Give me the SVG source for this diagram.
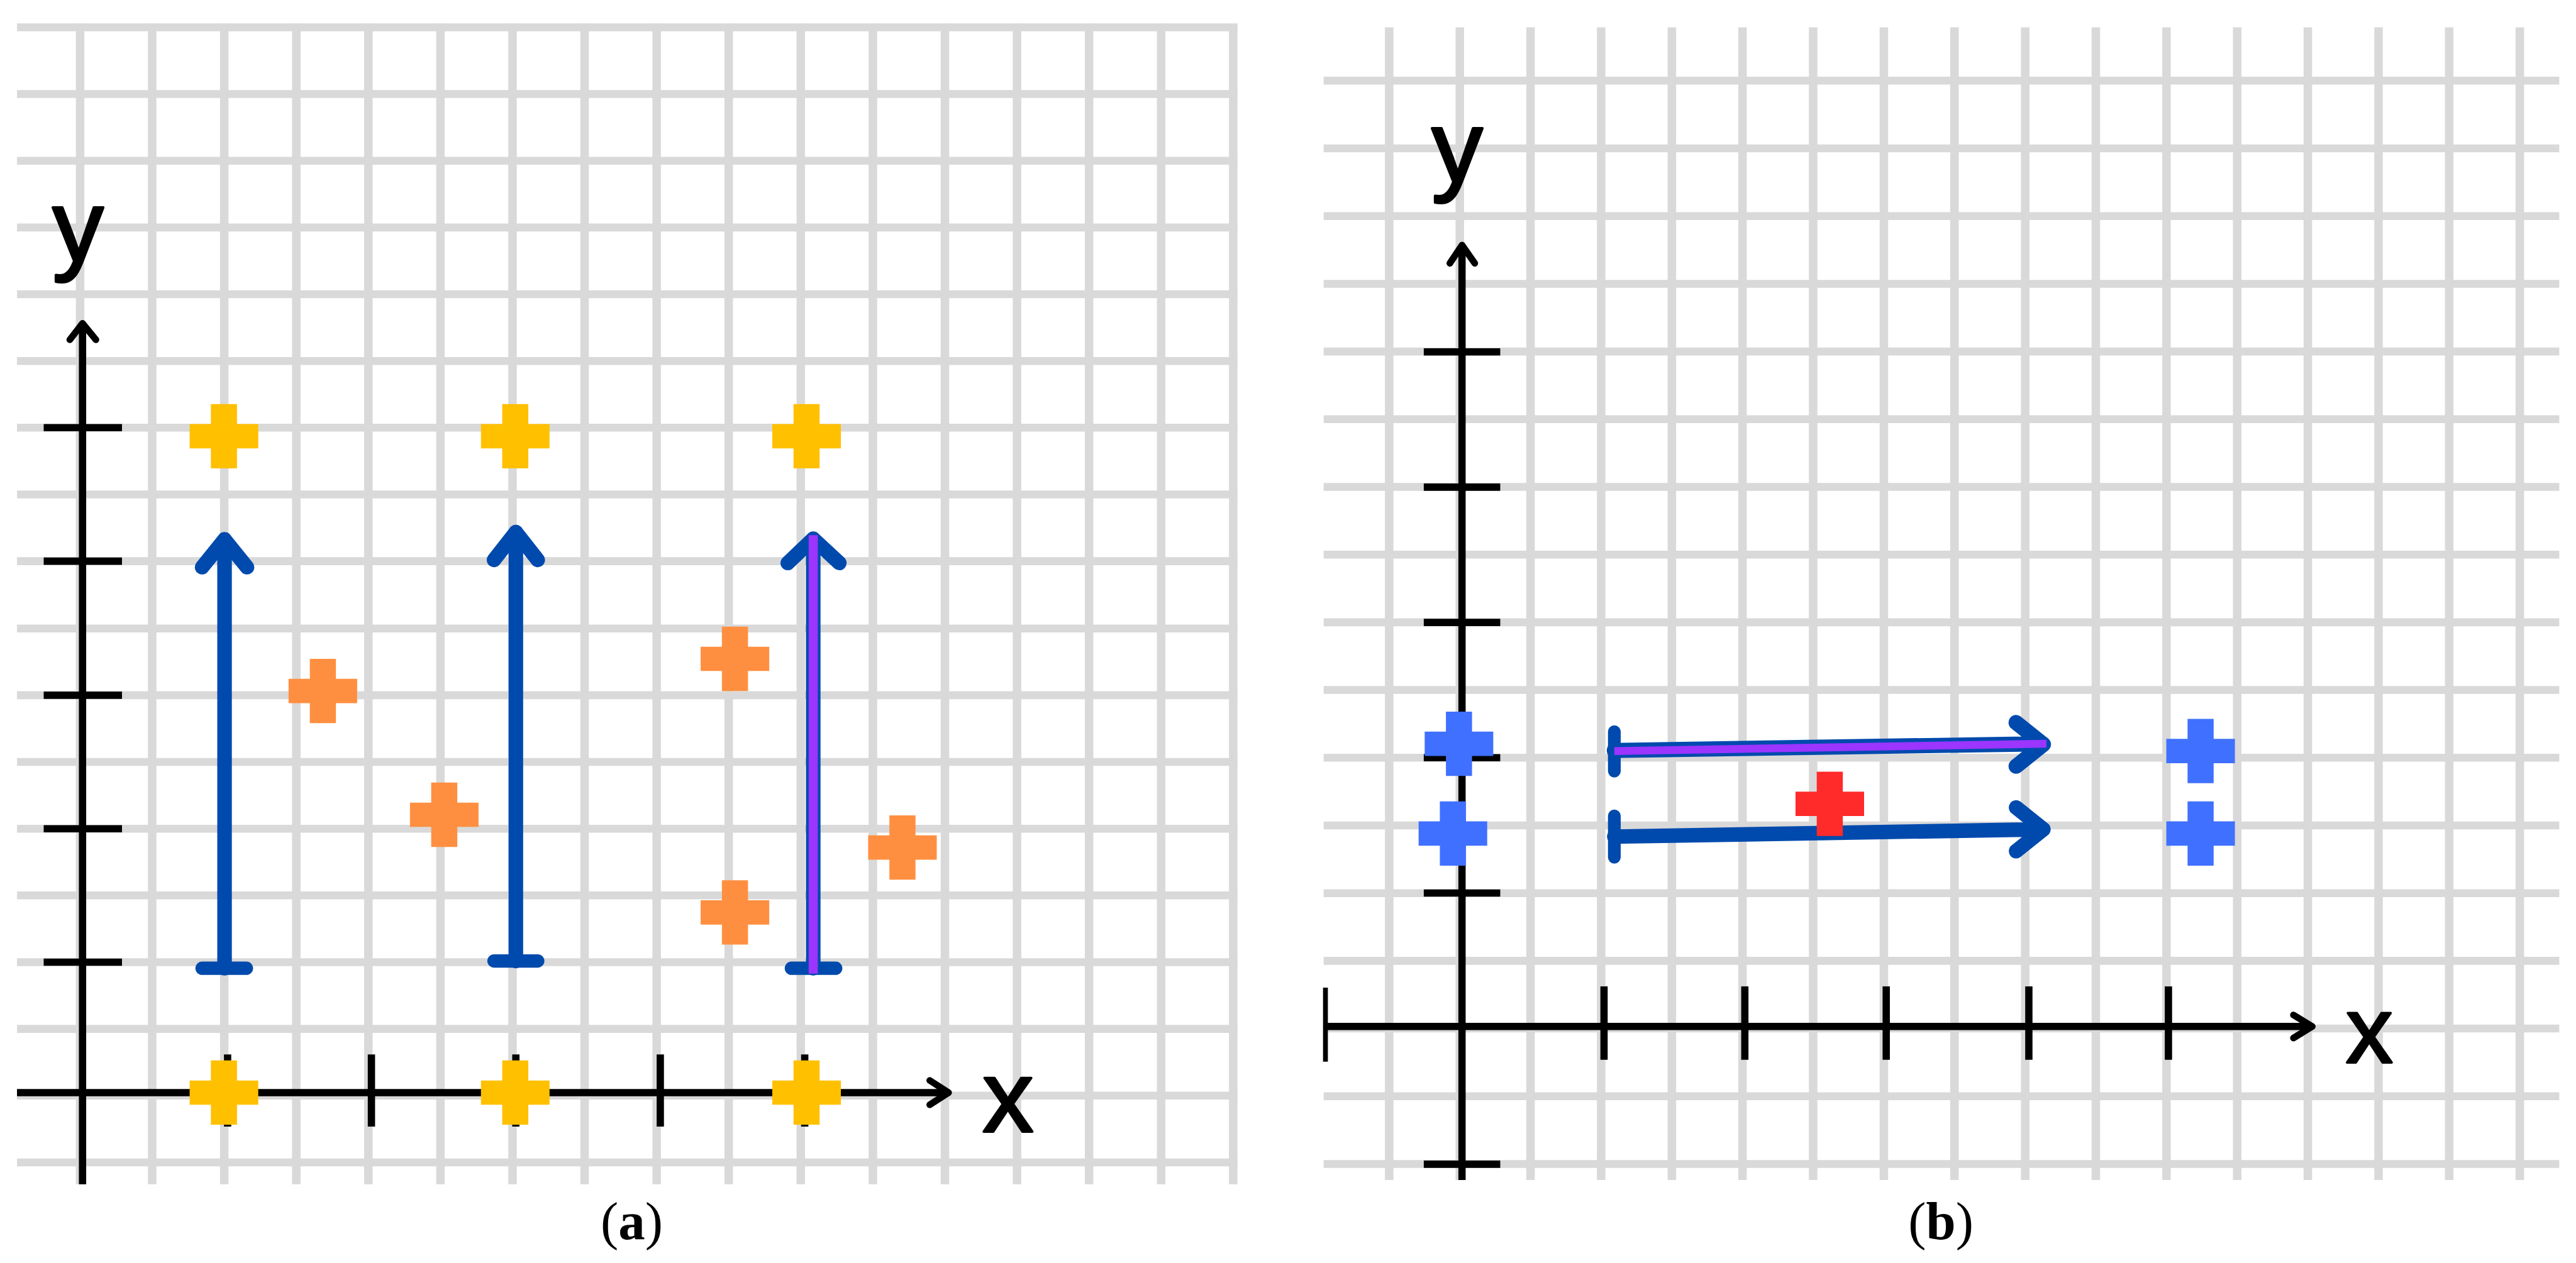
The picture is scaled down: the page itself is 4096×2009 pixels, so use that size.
<svg xmlns="http://www.w3.org/2000/svg" width="4096" height="2009" viewBox="0 0 4096 2009">
<style>
.grid{fill:none;stroke:#d9d9d9;stroke-width:13}
.axis{fill:none;stroke:#000;stroke-width:12;stroke-linecap:butt}
.axhead{fill:none;stroke:#000;stroke-width:11;stroke-linecap:round;stroke-linejoin:round}
.blue{fill:none;stroke:#004aad;stroke-width:24;stroke-linecap:round;stroke-linejoin:round}
.purple{fill:none;stroke:#9b35ff;stroke-width:13;stroke-linecap:butt}
.lbl{font-family:"Liberation Sans",Arial,sans-serif;font-size:168px;fill:#000;stroke:#000;stroke-width:4;stroke-linejoin:round;text-anchor:middle}
.cap{font-family:"Liberation Serif","Times New Roman",serif;font-size:88px;fill:#000;text-anchor:middle}
.yel{fill:#ffc000}
.org{fill:#ff8f40}
.blu{fill:#4070ff}
.red{fill:#ff2a2a}
</style>
<defs>
<path id="cross" d="M-21.5,-53h43v33h35v40h-35v33h-43v-33h-35v-40h35z"/>
</defs>
<rect x="0" y="0" width="4096" height="2009" fill="#fff"/>
<g transform="scale(0.965)">
<g id="grid-a">
<path class="grid" d="M28 45H2039M28 155H2039M28 265H2039M28 375H2039M28 485H2039M28 595H2039M28 705H2039M28 815H2039M28 925H2039M28 1036H2039M28 1146H2039M28 1256H2039M28 1366H2039M28 1476H2039M28 1586H2039M28 1696H2039M28 1806H2039M28 1916H2039"/>
<path class="grid" style="stroke-width:14" d="M132 39V1952M250.75 39V1952M369.5 39V1952M488.25 39V1952M607 39V1952M725.75 39V1952M844.5 39V1952M963.25 39V1952M1082 39V1952M1200.75 39V1952M1319.5 39V1952M1438.25 39V1952M1557 39V1952M1675.75 39V1952M1794.5 39V1952M1913.25 39V1952M2032 39V1952"/>
</g>
<g id="grid-b">
<path class="grid" d="M2181 133H4217M2181 244.6H4217M2181 356.2H4217M2181 467.8H4217M2181 579.4H4217M2181 691H4217M2181 802.6H4217M2181 914.2H4217M2181 1025.8H4217M2181 1137.4H4217M2181 1249H4217M2181 1360.6H4217M2181 1472.2H4217M2181 1583.8H4217M2181 1695.4H4217M2181 1807H4217M2181 1918.6H4217"/>
<path class="grid" style="stroke-width:14" d="M2289 45V1945M2405.4 45V1945M2521.9 45V1945M2638.3 45V1945M2754.8 45V1945M2871.2 45V1945M2987.6 45V1945M3104.1 45V1945M3220.5 45V1945M3337 45V1945M3453.4 45V1945M3569.8 45V1945M3686.3 45V1945M3802.7 45V1945M3919.2 45V1945M4035.6 45V1945M4152 45V1945"/>
</g>
<g id="axes-a">
<path class="axis" d="M136 1952V536M28 1801H1560"/>
<path class="axhead" d="M115 560L136 533L158 560M1532 1781L1563 1801L1532 1821"/>
<path class="axis" d="M72 705H201M72 925H201M72 1146H201M72 1366H201M72 1586H201M375 1738V1857M612 1738V1857M850 1738V1857M1088 1738V1857M1326 1738V1857"/>
<text id="label-a-y" class="lbl" x="128.5" y="430">y</text>
<text id="label-a-x" class="lbl" x="1661" y="1865">x</text>
</g>
<g id="axes-b">
<path class="axis" d="M2409 1945V407M2181 1692H3807"/>
<path class="axhead" d="M2389 434L2409 404L2430 434M3779 1673L3810 1692L3779 1711"/>
<path class="axis" d="M2346 580H2472M2346 803H2472M2346 1026H2472M2346 1249H2472M2346 1472H2472M2346 1919H2472M2643 1626V1747M2875 1626V1747M3108 1626V1747M3343 1626V1747M3573 1626V1747"/>
<path class="axis" style="stroke-width:8" d="M2184 1628V1750"/>
<text id="label-b-y" class="lbl" x="2401" y="299">y</text>
<text id="label-b-x" class="lbl" style="font-size:154px" x="3904" y="1751">x</text>
</g>
<g id="connectors">
<g id="arrow-a1"><path class="blue" d="M370 1596V889M333 935L370 889L407 935"/><path class="blue" style="stroke-width:22" d="M333 1596H406"/></g>
<g id="arrow-a2"><path class="blue" d="M850 1584V877M814 923L850 877L886 923"/><path class="blue" style="stroke-width:22" d="M814 1584H886"/></g>
<g id="arrow-a3"><path class="blue" d="M1340 1596V888M1298 928L1340 888L1383 928"/><path class="blue" style="stroke-width:22" d="M1304 1596H1377"/><path class="purple" style="stroke-width:15" d="M1340 1605V882"/></g>
<g id="arrow-b1"><path class="blue" style="stroke-width:21" d="M2660 1206V1271"/><path class="blue" style="stroke-width:25" d="M2660 1237L3366 1226M3322 1191L3367 1227L3322 1263"/><path class="purple" d="M2660 1238L3372 1226"/></g>
<g id="arrow-b2"><path class="blue" style="stroke-width:21" d="M2660 1345V1413"/><path class="blue" d="M2660 1379L3366 1367M3322 1331L3367 1367L3322 1403"/></g>
</g>
<g id="yellow-crosses">
<use id="ya1" class="yel" href="#cross" x="369" y="719"/>
<use id="ya2" class="yel" href="#cross" x="849" y="719"/>
<use id="ya3" class="yel" href="#cross" x="1329" y="719"/>
<use id="ya4" class="yel" href="#cross" x="369" y="1801"/>
<use id="ya5" class="yel" href="#cross" x="849" y="1801"/>
<use id="ya6" class="yel" href="#cross" x="1329" y="1801"/>
</g>
<g id="orange-crosses">
<use id="oa1" class="org" href="#cross" x="532" y="1139"/>
<use id="oa2" class="org" href="#cross" x="732" y="1343"/>
<use id="oa3" class="org" href="#cross" x="1211" y="1086"/>
<use id="oa4" class="org" href="#cross" x="1211" y="1504"/>
<use id="oa5" class="org" href="#cross" x="1487" y="1397"/>
</g>
<g id="blue-crosses">
<use id="bb1" class="blu" href="#cross" x="2404" y="1226"/>
<use id="bb2" class="blu" href="#cross" x="2394" y="1374"/>
<use id="bb3" class="blu" href="#cross" x="3626" y="1238"/>
<use id="bb4" class="blu" href="#cross" x="3626" y="1374"/>
</g>
<g id="red-cross"><use class="red" href="#cross" x="3015" y="1325"/></g>
<g id="captions">
<text id="cap-a" class="cap" x="1041" y="2042">(<tspan font-weight="bold">a</tspan>)</text>
<text id="cap-b" class="cap" x="3198" y="2042">(<tspan font-weight="bold">b</tspan>)</text>
</g>
</g>
</svg>
